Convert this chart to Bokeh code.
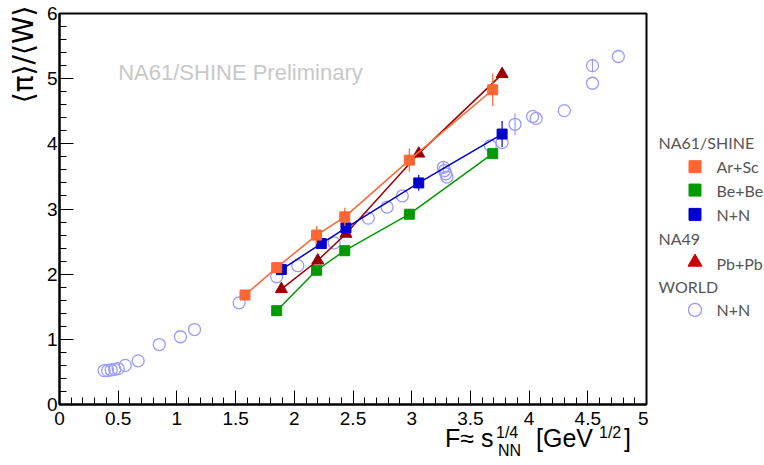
import numpy as np
from bokeh.plotting import figure
from bokeh.models import (Range1d, SingleIntervalTicker, CustomJSTickFormatter, Title, Div)
from bokeh.layouts import row, column
from bokeh.embed import file_html
from bokeh.resources import INLINE
from bokeh.core.properties import value

# ---------------- data ----------------
arsc_x = [1.58, 1.85, 2.19, 2.43, 2.98, 3.69]
arsc_y = [1.68, 2.10, 2.60, 2.88, 3.75, 4.83]
arsc_e = [0.03, 0.08, 0.14, 0.14, 0.18, 0.25]

bebe_x = [1.85, 2.19, 2.43, 2.98, 3.69]
bebe_y = [1.44, 2.06, 2.36, 2.92, 3.85]
bebe_e = [0.02, 0.03, 0.03, 0.04, 0.05]

nn_x = [1.89, 2.23, 2.44, 3.06, 3.77]
nn_y = [2.07, 2.47, 2.71, 3.40, 4.15]
nn_e = [0.04, 0.08, 0.06, 0.12, 0.20]

pbpb_x = [1.89, 2.20, 2.44, 3.06, 3.77]
pbpb_y = [1.77, 2.21, 2.62, 3.85, 5.07]
pbpb_e = [0.02, 0.02, 0.03, 0.04, 0.05]

world_x = [0.38, 0.41, 0.44, 0.47, 0.50, 0.56, 0.67, 0.85, 1.03, 1.15, 1.53,
           1.85, 2.03, 2.34, 2.63, 2.79, 2.92, 3.27, 3.28, 3.29, 3.30,
           3.67, 3.77, 3.88, 4.03, 4.06, 4.30, 4.54, 4.54, 4.76]
world_y = [0.52, 0.52, 0.53, 0.54, 0.55, 0.60, 0.67, 0.92, 1.04, 1.15, 1.56,
           1.96, 2.13, 2.48, 2.86, 3.03, 3.20, 3.64, 3.59, 3.54, 3.49,
           3.97, 4.02, 4.30, 4.42, 4.39, 4.51, 4.93, 5.20, 5.34]
world_e = [0, 0, 0, 0, 0, 0, 0, 0, 0, 0, 0,
           0, 0, 0, 0, 0, 0, 0.08, 0, 0, 0,
           0, 0, 0.17, 0, 0, 0, 0, 0.10, 0]

legend_heads = ["NA61/SHINE", "NA49", "WORLD"]
legend_items = ["Ar+Sc", "Be+Be", "N+N", "Pb+Pb", "N+N"]

C_ARSC = "#ff6633"
C_BEBE = "#009900"
C_NN = "#0000cc"
C_PB = "#990000"
C_PB_LEG = "#cc0000"
C_WORLD = "#9a9aff"

FONT = "Liberation Sans"
H_MAIN = 434

p = figure(width=648, height=H_MAIN, output_backend="svg", toolbar_location=None,
           x_range=Range1d(0, 5), y_range=Range1d(0, 6),
           min_border_left=58, min_border_right=2, min_border_top=13,
           min_border_bottom=30)
p.grid.visible = False
p.background_fill_color = "white"
p.border_fill_color = "white"
p.outline_line_color = "black"
p.outline_line_width = 2

for ax in (p.xaxis[0], p.yaxis[0]):
    ax.axis_line_width = 2
    ax.major_tick_in = 14
    ax.major_tick_out = 0
    ax.minor_tick_in = 7
    ax.minor_tick_out = 0
    ax.major_tick_line_width = 1
    ax.minor_tick_line_width = 1
    ax.major_label_text_font = FONT
    ax.major_label_text_font_size = "19px"
    ax.major_label_text_color = "black"
    ax.formatter = CustomJSTickFormatter(code="return String(Math.round(tick*10)/10);")

p.xaxis.ticker = SingleIntervalTicker(interval=0.5, num_minor_ticks=5)
p.yaxis.ticker = SingleIntervalTicker(interval=1, num_minor_ticks=5)
p.xaxis.major_label_standoff = 7
p.yaxis.major_label_standoff = 2

p.add_layout(Title(text="\u27e8\u03c0\u27e9/\u27e8W\u27e9", align="right",
                   text_font="DejaVu Sans", text_font_size="28px",
                   text_font_style="normal", text_color="black",
                   standoff=8, offset=-8), "left")

# watermark
p.text(x=[0.50], y=[5.09], text=["NA61/SHINE Preliminary"],
       text_font=value(FONT), text_font_size="22px",
       text_color="#c8c8c8", text_baseline="middle", text_align="left")

# world data
wx = np.array(world_x); wy = np.array(world_y); we = np.array(world_e)
m = we > 0
p.segment(wx[m], wy[m] - we[m], wx[m], wy[m] + we[m], line_color=C_WORLD, line_width=1.2)
p.scatter(world_x, world_y, marker="circle", size=12, fill_color=None,
          line_color=C_WORLD, line_width=1.3)

def series(xs, ys, es, color, marker, size):
    xs = np.array(xs); ys = np.array(ys); es = np.array(es)
    p.line(xs, ys, line_color=color, line_width=1.5)
    p.segment(xs, ys - es, xs, ys + es, line_color=color, line_width=1.2)
    p.scatter(xs, ys, marker=marker, size=size, fill_color=color, line_color=color)

series(bebe_x, bebe_y, bebe_e, C_BEBE, "square", 10)
series(pbpb_x, pbpb_y, pbpb_e, C_PB, "triangle", 12)
series(nn_x, nn_y, nn_e, C_NN, "square", 10)
series(arsc_x, arsc_y, arsc_e, C_ARSC, "square", 10)

# ---------------- legend panel ----------------
LW = 764 - 648
lg = figure(width=LW, height=H_MAIN, output_backend="svg", toolbar_location=None,
            x_range=Range1d(0, LW), y_range=Range1d(H_MAIN, 0),
            min_border=0, min_border_left=0, min_border_right=0,
            min_border_top=0, min_border_bottom=0)
lg.axis.visible = False
lg.grid.visible = False
lg.outline_line_color = None
lg.background_fill_color = "white"
lg.border_fill_color = "white"

LEG_FONT = value("Lato")
heads_y = [143, 250, 303]
lg.text(x=[10] * 3, y=heads_y, text=legend_heads, text_font=LEG_FONT,
        text_font_size="16px", text_color="#555555", text_baseline="middle")

items_y = [170, 196, 223, 277, 329]
lg.text(x=[68] * 5, y=items_y, text=legend_items, text_font=LEG_FONT,
        text_font_size="16px", text_color="#555555", text_baseline="middle")
lg.scatter([46.5] * 3, items_y[:3], marker="square", size=12,
           fill_color=[C_ARSC, C_BEBE, C_NN], line_color=[C_ARSC, C_BEBE, C_NN])
lg.scatter([46.5], [items_y[3] - 1], marker="triangle", size=14,
           fill_color=C_PB_LEG, line_color=C_PB_LEG)
lg.scatter([46.5], [items_y[4]], marker="circle", size=13, fill_color=None,
           line_color=C_WORLD, line_width=1.3)

# ---------------- x-axis title (HTML with sub/superscripts) ----------------
def span(txt, left, top, size):
    return (f'<span style="position:absolute;left:{left}px;top:{top}px;'
            f'font-size:{size}px;line-height:1;white-space:nowrap;">{txt}</span>')

XT_H = 465 - H_MAIN
xt_html = (
    f'<div style="position:relative;width:764px;height:{XT_H}px;'
    f'font-family:\'{FONT}\',sans-serif;color:black;overflow:visible;">'
    + span("F\u2248 s", 440, -13, 25)
    + span("1/4", 491, -14, 16)
    + span("NN", 493, 4, 16)
    + span("[GeV", 531, -13, 25)
    + span("1/2", 594, -14, 16)
    + span("]", 619, -13, 25)
    + '</div>'
)
xt = Div(text=xt_html, width=764, height=XT_H, styles={"overflow": "visible"})

layout = column(row(p, lg), xt)
open("out.html", "w").write(file_html(layout, INLINE))
